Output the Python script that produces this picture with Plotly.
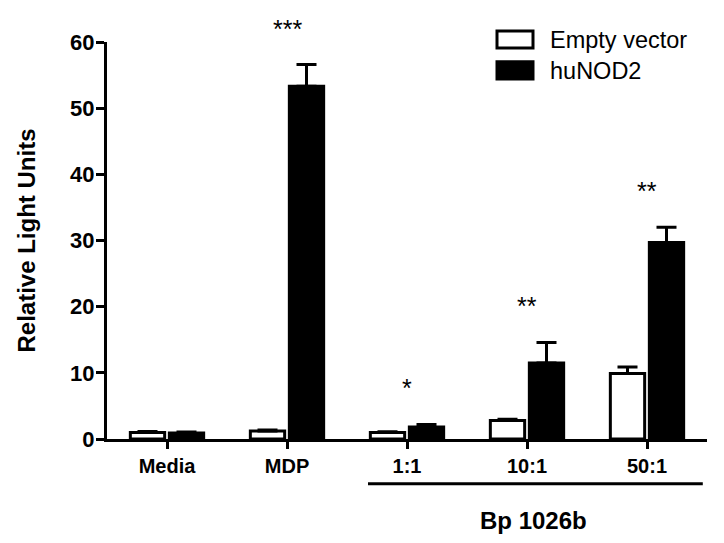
import plotly.graph_objects as go

categories = ["Media", "MDP", "1:1", "10:1", "50:1"]
empty_vals = [1.0, 1.2, 1.0, 2.8, 9.9]
empty_err = [0.15, 0.15, 0.1, 0.2, 1.0]
nod2_vals = [0.9, 53.3, 1.8, 11.5, 29.7]
nod2_err = [0.15, 3.3, 0.4, 3.1, 2.3]
sig_labels = ["", "***", "*", "**", "**"]
y_ticks = [0, 10, 20, 30, 40, 50, 60]

FONT = "Liberation Sans, Arial, sans-serif"

fig = go.Figure()
fig.add_trace(go.Bar(
    x=categories, y=empty_vals, name="Empty vector",
    marker=dict(color="white", line=dict(color="black", width=3)),
    error_y=dict(type="data", array=empty_err, arrayminus=[0]*5, symmetric=False,
                 color="black", thickness=3, width=10),
))
fig.add_trace(go.Bar(
    x=categories, y=nod2_vals, name="huNOD2",
    marker=dict(color="black", line=dict(color="black", width=3)),
    error_y=dict(type="data", array=nod2_err, arrayminus=[0]*5, symmetric=False,
                 color="black", thickness=3, width=10),
))

# significance stars above the highest bar+error of each group
for i, lab in enumerate(sig_labels):
    if not lab:
        continue
    top = max(empty_vals[i] + empty_err[i], nod2_vals[i] + nod2_err[i])
    fig.add_annotation(x=categories[i], y=top, yshift=36, text=lab, showarrow=False,
                       font=dict(family=FONT, size=25, color="black"),
                       xref="x", yref="y", yanchor="middle")

# legend drawn manually (large swatches)
fig.add_shape(type="rect", xref="paper", yref="paper", x0=0.65, x1=0.71, y0=0.985, y1=1.028,
              line=dict(color="black", width=3), fillcolor="white")
fig.add_shape(type="rect", xref="paper", yref="paper", x0=0.65, x1=0.71, y0=0.907, y1=0.950,
              line=dict(color="black", width=3), fillcolor="black")
fig.add_annotation(xref="paper", yref="paper", x=0.735, y=1.006, text="Empty vector",
                   showarrow=False, xanchor="left", yanchor="middle",
                   font=dict(family=FONT, size=23.5, color="black"))
fig.add_annotation(xref="paper", yref="paper", x=0.735, y=0.928, text="huNOD2",
                   showarrow=False, xanchor="left", yanchor="middle",
                   font=dict(family=FONT, size=23.5, color="black"))

# group bracket for Bp 1026b
fig.add_shape(type="line", xref="paper", yref="paper", x0=0.435, x1=0.993, y0=-0.113, y1=-0.113,
              line=dict(color="black", width=3))
fig.add_annotation(xref="paper", yref="paper", x=0.71, y=-0.205, text="<b>Bp 1026b</b>",
                   showarrow=False, xanchor="center", yanchor="middle",
                   font=dict(family=FONT, size=24, color="black"))

# page body has an 8px margin, so the figure is 8px smaller in each direction
fig.update_layout(
    width=716, height=535,
    margin=dict(l=99, r=17, t=34, b=104),
    paper_bgcolor="white", plot_bgcolor="white",
    barmode="group", bargap=0.35, bargroupgap=0.12,
    showlegend=False,
    font=dict(family=FONT, color="black"),
)
fig.update_xaxes(
    automargin=False,
    showline=True, linecolor="black", linewidth=3,
    ticks="outside", ticklen=7, tickwidth=3, tickcolor="black",
    tickfont=dict(family=FONT, size=20, color="black"),
    tickvals=categories, ticktext=[f"<b>{c}</b>" for c in categories],
    showgrid=False, zeroline=False, range=[-0.5, 4.5],
)
fig.update_yaxes(
    automargin=False,
    range=[0, 60], tickvals=y_ticks, ticktext=[f"<b>{t}</b>" for t in y_ticks],
    showline=True, linecolor="black", linewidth=3,
    ticks="outside", ticklen=8, tickwidth=3, tickcolor="black",
    ticklabelstandoff=-3,
    tickfont=dict(family=FONT, size=22, color="black"),
    showgrid=False, zeroline=False,
    title=dict(text="<b>Relative Light Units</b>", font=dict(family=FONT, size=24, color="black"),
               standoff=28),
)

fig.write_html("out.html")
